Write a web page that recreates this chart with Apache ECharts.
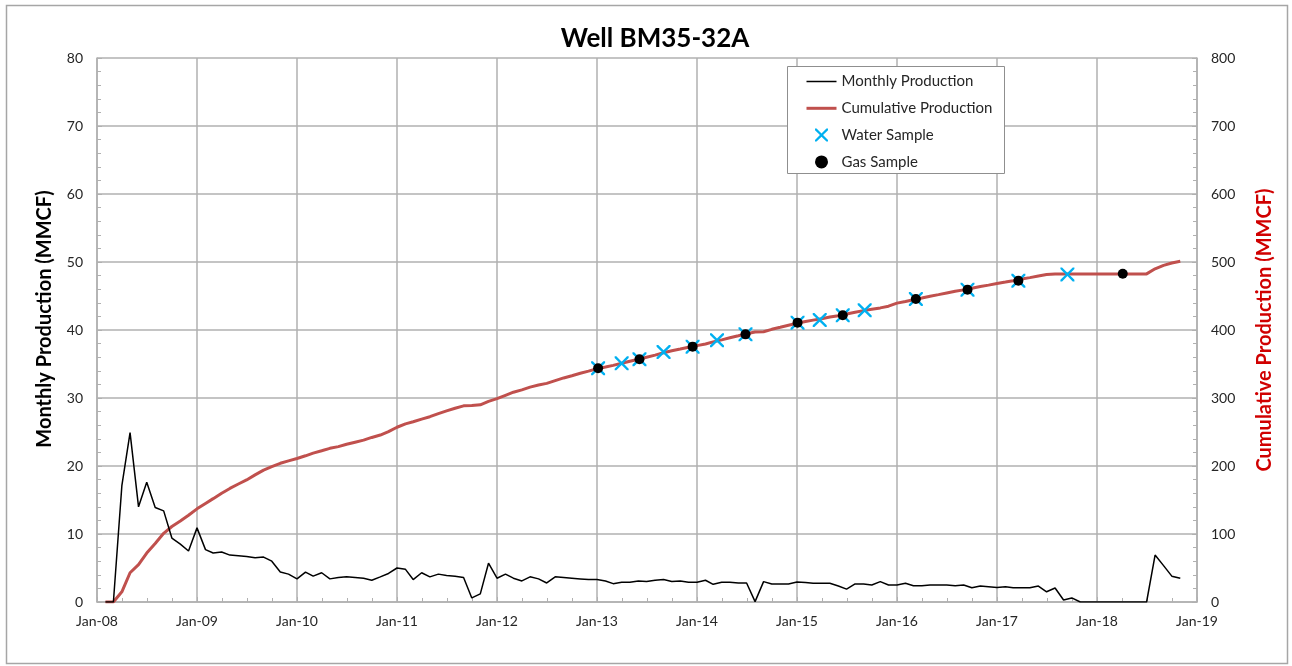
<!DOCTYPE html>
<html><head><meta charset="utf-8">
<script src="https://cdn.jsdelivr.net/npm/echarts@6/dist/echarts.min.js"></script>
<style>html,body{margin:0;padding:0;background:#fff}#chart{width:1292px;height:666px}</style>
</head><body><div id="chart"></div>
<script>
const chartTitle = 'Well BM35-32A';
const leftAxisTitle = 'Monthly Production (MMCF)';
const rightAxisTitle = 'Cumulative Production (MMCF)';
const seriesNames = ['Monthly Production', 'Cumulative Production', 'Water Sample', 'Gas Sample'];
const xTickPrefix = 'Jan-';
const firstMonth = '2008-02';

const monthlyProduction = [
  0, 0, 17.1, 24.9, 14.0, 17.6, 13.9, 13.4, 9.4, 8.5, 7.5,
  10.9, 7.7, 7.2, 7.35, 6.9, 6.8, 6.7, 6.5, 6.6, 6.0, 4.4, 4.1,
  3.4, 4.4, 3.8, 4.3, 3.4, 3.6, 3.7, 3.6, 3.5, 3.2, 3.7, 4.2,
  5.0, 4.8, 3.3, 4.3, 3.7, 4.1, 3.9, 3.8, 3.6, 0.6, 1.2, 5.7,
  3.5, 4.1, 3.5, 3.1, 3.7, 3.4, 2.8, 3.7, 3.6, 3.5, 3.4, 3.3,
  3.3, 3.1, 2.7, 2.9, 2.9, 3.1, 3.0, 3.2, 3.3, 3.0, 3.1, 2.9,
  2.9, 3.2, 2.6, 2.9, 2.9, 2.8, 2.8, 0.05, 3.0, 2.65, 2.65, 2.65,
  2.95, 2.85, 2.75, 2.75, 2.75, 2.35, 1.9, 2.65, 2.65, 2.5, 3.0, 2.5,
  2.5, 2.75, 2.4, 2.4, 2.5, 2.5, 2.5, 2.4, 2.5, 2.1, 2.35, 2.25,
  2.15, 2.25, 2.1, 2.1, 2.1, 2.35, 1.5, 2.05, 0.3, 0.6, 0, 0,
  0, 0, 0, 0, 0, 0, 0, 6.9, 5.35, 3.8, 3.5
];

const cumulativeProduction = [
  0, 0, 15, 43, 55, 72, 86, 101, 111, 119, 127.5,
  137, 145, 152, 160, 167, 173.5, 179.5, 187, 194, 199, 204, 207.5,
  211, 215, 219, 222.5, 226, 228.5, 232, 235, 238, 242, 245.5, 250.5,
  257, 262, 265, 269, 272.5, 277, 281, 285, 288.5, 289, 290, 295,
  299, 304, 308.5, 312, 316, 319, 321.5, 325.5, 329.5, 332.8, 336.3, 339.5,
  343, 345.5, 348, 351, 354, 357, 360, 363, 366.5, 369.5, 372, 374.5,
  377, 379.5, 382.5, 385.5, 388.5, 391.5, 394.5, 397, 397.5, 401, 404, 407,
  410, 412.5, 414.5, 416.5, 419, 421, 423.5, 426, 428.5, 430.5, 432.5, 435,
  439.5, 442, 444.5, 447, 449.5, 452, 454.5, 457, 459, 461.5, 464, 466,
  468.5, 470.5, 472.5, 475, 477, 479.5, 481.5, 482.5, 482.5, 482.5, 482.5, 482.5,
  482.5, 482.5, 482.5, 482.5, 482.5, 482.5, 482.5, 490, 495, 498.5, 501
];

const waterSampleDates = ['2013-01-05','2013-04-01','2013-06-05','2013-09-01','2013-12-16','2014-03-15','2014-06-27','2015-01-03','2015-03-25','2015-06-17','2015-09-05','2016-03-10','2016-09-15','2017-03-20','2017-09-15'];
const waterSampleValues = [343.7, 351, 357, 367.6, 375.5, 385, 393.6, 410.8, 414.7, 421.6, 429, 445.6, 459.3, 472.5, 481.8];
const gasSampleDates = ['2013-01-05','2013-06-05','2013-12-16','2014-06-27','2015-01-03','2015-06-17','2016-03-10','2016-09-15','2017-03-20','2018-04-05'];
const gasSampleValues = [343.7, 357, 375.5, 393.6, 410.8, 421.6, 445.6, 459.3, 472.5, 482.8];

function toYear(s) {
  const p = s.split('-').map(Number);
  const y = p[0], m = p[1], d = p[2] || 1;
  const start = Date.UTC(y, 0, 1), end = Date.UTC(y + 1, 0, 1);
  return y + (Date.UTC(y, m - 1, d) - start) / (end - start);
}
const fm = firstMonth.split('-').map(Number);
const productionMonths = monthlyProduction.map((_, i) => {
  const idx = fm[1] - 1 + i;
  const y = fm[0] + Math.floor(idx / 12);
  const m = idx % 12 + 1;
  return y + '-' + String(m).padStart(2, '0') + '-01';
});

const FONT = 'Lato, "Open Sans", sans-serif';
const gridColor = '#b0b0b0';
const labelColor = '#262626';
const xMark = 'path://M0,0 L2.4,0 L10,7.6 L17.6,0 L20,0 L20,2.4 L12.4,10 L20,17.6 L20,20 L17.6,20 L10,12.4 L2.4,20 L0,20 L0,17.6 L7.6,10 L0,2.4 Z';

const chart = echarts.init(document.getElementById('chart'), null, {renderer: 'canvas'});
chart.setOption({
  backgroundColor: '#ffffff',
  animation: false,
  title: {
    text: chartTitle, left: 650, top: 21, textAlign: 'center',
    textStyle: {fontFamily: FONT, fontSize: 26, fontWeight: 'bold', color: '#000'}
  },
  graphic: [
    {type: 'rect', z: -10, shape: {x: 6.5, y: 5.5, width: 1281, height: 658}, style: {fill: 'none', stroke: '#a6a6a6', lineWidth: 1.5}},
    {type: 'rect', z: 5, shape: {x: 787.5, y: 66.5, width: 217, height: 107}, style: {fill: '#fff', stroke: '#8f8f8f', lineWidth: 1}},
    {type: 'text', z: 6, x: 45, y: 319, rotation: Math.PI / 2,
      style: {text: leftAxisTitle, fontFamily: FONT, fontSize: 20, fontWeight: 'bold', fill: '#000', align: 'center', verticalAlign: 'middle'}},
    {type: 'text', z: 6, x: 1265, y: 330, rotation: Math.PI / 2,
      style: {text: rightAxisTitle, fontFamily: FONT, fontSize: 20, fontWeight: 'bold', fill: '#d00000', align: 'center', verticalAlign: 'middle'}}
  ],
  legend: {
    z: 10, orient: 'vertical', left: 800, top: 69, itemWidth: 30, itemHeight: 13, itemGap: 11.8,
    data: [
      {name: seriesNames[0], itemStyle: {opacity: 0}, lineStyle: {width: 1.5}},
      {name: seriesNames[1], itemStyle: {opacity: 0}, lineStyle: {width: 3}},
      {name: seriesNames[2]},
      {name: seriesNames[3], itemStyle: {color: '#000'}}
    ],
    textStyle: {fontFamily: FONT, fontSize: 15, color: '#262626'}
  },
  grid: {left: 97, right: 95, top: 58, bottom: 64},
  xAxis: {
    type: 'value', min: 2008, max: 2019, interval: 1,
    axisLine: {lineStyle: {color: gridColor, width: 1.5}},
    axisTick: {show: true, inside: true, length: 5, lineStyle: {color: gridColor}},
    minorTick: {show: true, splitNumber: 4, length: 4, lineStyle: {color: gridColor}},
    splitLine: {show: true, lineStyle: {color: gridColor, width: 1.5}},
    axisLabel: {margin: 12, fontFamily: FONT, fontSize: 14, color: labelColor,
      formatter: v => xTickPrefix + String(Math.round(v)).slice(2)}
  },
  yAxis: [
    {
      type: 'value', min: 0, max: 80, interval: 10, position: 'left',
      axisLine: {show: true, lineStyle: {color: gridColor, width: 1.5}},
      axisTick: {show: true, inside: true, length: 5, lineStyle: {color: gridColor}},
      minorTick: {show: true, splitNumber: 5, length: 4, lineStyle: {color: gridColor}},
      splitLine: {show: true, lineStyle: {color: gridColor, width: 1.5}},
      axisLabel: {margin: 14, fontFamily: FONT, fontSize: 14, color: labelColor}
    },
    {
      type: 'value', min: 0, max: 800, interval: 100, position: 'right',
      axisLine: {show: true, lineStyle: {color: gridColor, width: 1.5}},
      axisTick: {show: true, inside: true, length: 5, lineStyle: {color: gridColor}},
      minorTick: {show: true, splitNumber: 5, length: 4, lineStyle: {color: gridColor}},
      splitLine: {show: false},
      axisLabel: {margin: 14, fontFamily: FONT, fontSize: 14, color: labelColor}
    }
  ],
  series: [
    {
      name: seriesNames[0], type: 'line', yAxisIndex: 0, symbol: 'none', z: 3,
      color: '#000', lineStyle: {color: '#000', width: 1.5},
      data: monthlyProduction.map((v, i) => [toYear(productionMonths[i]), v])
    },
    {
      name: seriesNames[1], type: 'line', yAxisIndex: 1, symbol: 'none', z: 2,
      color: '#c0504d', lineStyle: {color: '#c0504d', width: 3},
      data: cumulativeProduction.map((v, i) => [toYear(productionMonths[i]), v])
    },
    {
      name: seriesNames[2], type: 'scatter', yAxisIndex: 1, symbol: xMark, symbolSize: 14, z: 4,
      itemStyle: {color: '#00b0f0', opacity: 1},
      data: waterSampleDates.map((d, i) => [toYear(d), waterSampleValues[i]])
    },
    {
      name: seriesNames[3], type: 'scatter', yAxisIndex: 1, symbol: 'circle', symbolSize: 10, z: 5,
      itemStyle: {color: '#000', opacity: 1},
      data: gasSampleDates.map((d, i) => [toYear(d), gasSampleValues[i]])
    }
  ]
});
</script></body></html>
